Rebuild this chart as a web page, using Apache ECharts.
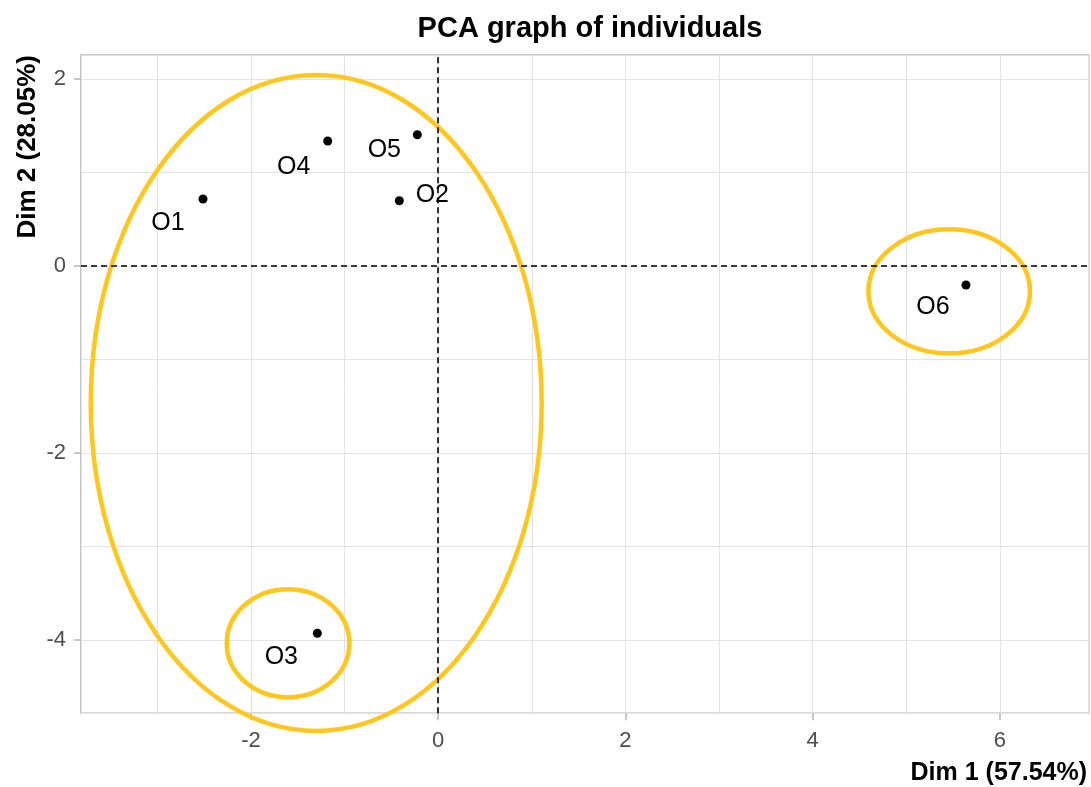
<!DOCTYPE html>
<html>
<head>
<meta charset="utf-8">
<title>PCA graph of individuals</title>
<script src="https://cdn.jsdelivr.net/npm/echarts@6/dist/echarts.min.js"></script>
<style>
  html, body { margin: 0; padding: 0; background: #ffffff; }
  #chart { width: 1091px; height: 787px; }
</style>
</head>
<body>
<div id="chart"></div>
<script>
// Individuals: coordinates on the first two principal dimensions
const names = ['O1', 'O2', 'O3', 'O4', 'O5', 'O6'];
const dim1 = [-2.512, -0.415, -1.291, -1.180, -0.223, 5.637];
const dim2 = [0.717, 0.698, -3.928, 1.337, 1.404, -0.203];

// Group ellipses: centre and semi-axes in data units
const ellipseCx = [-1.303, -1.604, 5.458];
const ellipseCy = [-1.465, -4.035, -0.271];
const ellipseRx = [2.408, 0.655, 0.863];
const ellipseRy = [3.508, 0.578, 0.663];

// Axis tick labels
const xTicks = [-2, 0, 2, 4, 6];
const yTicks = [-4, -2, 0, 2];

const titleText = 'PCA graph of individuals';
const xName = 'Dim 1 (57.54%)';
const yName = 'Dim 2 (28.05%)';

// Label placement relative to each point (pixels)
const labelOffsets = [[-35, 24], [33, -6], [-36, 24], [-34, 26], [-33, 15], [-33, 22]];

const FONT = '"Liberation Sans", Arial, sans-serif';
const ELLIPSE_COLOR = '#FFC61E';
const X_RANGE = [-3.815, 6.948];
const Y_RANGE = [-4.784, 2.257];

const points = names.map((n, i) => ({
  name: n,
  value: [dim1[i], dim2[i]],
  label: { offset: labelOffsets[i] }
}));

const ellipses = ellipseCx.map((cx, i) => [cx, ellipseCy[i], ellipseRx[i], ellipseRy[i]]);

const chart = echarts.init(document.getElementById('chart'), null, { renderer: 'canvas' });

// Grid axes: one line per unit, nothing else drawn
const gridAxis = {
  type: 'value',
  axisLine: { show: false, onZero: false },
  axisTick: { show: false },
  axisLabel: { show: false },
  splitLine: { show: true, lineStyle: { color: '#E3E3E3', width: 1 } }
};
// Labelled axes: ticks and labels at the major values only, kept on the frame
const labelAxis = {
  type: 'value',
  axisLine: { show: false, onZero: false },
  splitLine: { show: false },
  axisTick: { show: true, length: 7, lineStyle: { color: '#B3B3B3', width: 1.5 } },
  axisLabel: { color: '#4D4D4D', fontSize: 22, fontFamily: FONT, margin: 15 }
};

chart.setOption({
  animation: false,
  backgroundColor: '#ffffff',
  title: {
    text: titleText,
    left: 585,
    textAlign: 'center',
    top: 9,
    textStyle: { fontFamily: FONT, fontSize: 29, fontWeight: 'bold', color: '#000000' }
  },
  grid: {
    left: 81, right: 2.3, top: 55, bottom: 73.7,
    show: true, borderColor: '#B3B3B3', borderWidth: 1.5, backgroundColor: 'transparent'
  },
  xAxis: [
    Object.assign({}, gridAxis, { min: X_RANGE[0], max: X_RANGE[1], splitNumber: 10, position: 'bottom' }),
    Object.assign({}, labelAxis, {
      min: X_RANGE[0], max: X_RANGE[1], position: 'bottom',
      axisTick: Object.assign({}, labelAxis.axisTick, { customValues: xTicks }),
      axisLabel: Object.assign({}, labelAxis.axisLabel, { customValues: xTicks, margin: 17 })
    })
  ],
  yAxis: [
    Object.assign({}, gridAxis, { min: Y_RANGE[0], max: Y_RANGE[1], splitNumber: 7, position: 'left' }),
    Object.assign({}, labelAxis, {
      min: Y_RANGE[0], max: Y_RANGE[1], position: 'left',
      axisTick: Object.assign({}, labelAxis.axisTick, { customValues: yTicks }),
      axisLabel: Object.assign({}, labelAxis.axisLabel, { customValues: yTicks })
    })
  ],
  graphic: [
    {
      type: 'text',
      right: 4,
      top: 761,
      style: { text: xName, font: 'bold 25px ' + FONT, fill: '#000000' }
    },
    {
      type: 'text',
      x: 41,
      y: 55,
      rotation: Math.PI / 2,
      style: { text: yName, font: 'bold 26px ' + FONT, fill: '#000000', align: 'right', verticalAlign: 'bottom' }
    }
  ],
  series: [
    {
      type: 'custom',
      clip: false,
      silent: true,
      xAxisIndex: 0,
      yAxisIndex: 0,
      data: ellipses,
      encode: { x: 0, y: 1 },
      renderItem: function (params, api) {
        const c = api.coord([api.value(0), api.value(1)]);
        const s = api.size([api.value(2), api.value(3)]);
        return {
          type: 'ellipse',
          shape: { cx: c[0], cy: c[1], rx: s[0], ry: s[1] },
          style: { fill: 'none', stroke: ELLIPSE_COLOR, lineWidth: 4.5 }
        };
      },
      z: 3
    },
    {
      type: 'scatter',
      xAxisIndex: 0,
      yAxisIndex: 0,
      data: points,
      symbol: 'circle',
      symbolSize: 9,
      itemStyle: { color: '#000000', opacity: 1 },
      label: {
        show: true,
        formatter: '{b}',
        position: 'inside',
        color: '#000000',
        textBorderWidth: 0,
        fontSize: 25,
        fontFamily: FONT
      },
      markLine: {
        silent: true,
        symbol: 'none',
        label: { show: false },
        lineStyle: { color: '#000000', type: [6, 4], width: 1.6 },
        data: [{ xAxis: 0 }, { yAxis: 0 }]
      },
      z: 4
    }
  ]
});
</script>
</body>
</html>
